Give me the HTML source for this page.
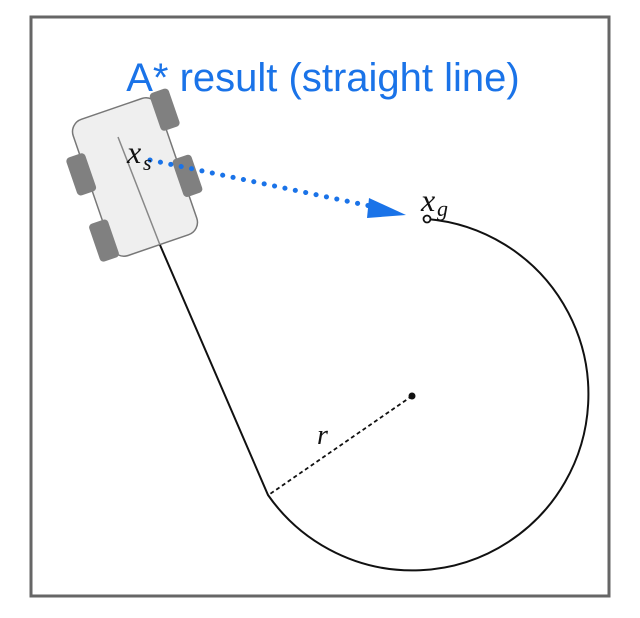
<!DOCTYPE html>
<html><head><style>html,body{margin:0;padding:0;background:#fff;}</style></head>
<body>
<svg width="640" height="613" xmlns="http://www.w3.org/2000/svg">
<rect x="31" y="17" width="578" height="579" fill="#fff" stroke="#666" stroke-width="3"/>
<text x="323" y="91" text-anchor="middle" font-family="Liberation Sans, sans-serif" font-size="40" fill="#1a73e8">A* result (straight line)</text>
<g transform="translate(135,177) rotate(-19)">
<rect x="-45" y="-72" width="90" height="144" rx="13" fill="#efefef" stroke="#777" stroke-width="1.5"/>
<rect x="-60" y="-40" width="20" height="40" rx="4" fill="#808080"/>
<rect x="-60" y="30" width="20" height="40" rx="4" fill="#808080"/>
<rect x="40" y="-74" width="20" height="40" rx="4" fill="#808080"/>
<rect x="40" y="-4" width="20" height="40" rx="4" fill="#808080"/>
</g>
<line x1="118" y1="137" x2="160" y2="245" stroke="#888" stroke-width="1.5"/>
<path d="M160 245 L268 495 A176 176 0 1 0 427 219" fill="none" stroke="#111" stroke-width="2"/>
<circle cx="427" cy="219" r="3.5" fill="#fff" stroke="#111" stroke-width="1.8"/>
<circle cx="412" cy="396" r="3.5" fill="#111"/>
<line x1="412" y1="396" x2="270" y2="494" stroke="#111" stroke-width="1.8" stroke-dasharray="4,3"/>
<text x="317" y="444" font-family="Liberation Serif, serif" font-style="italic" font-size="28" fill="#111">r</text>
<line x1="150" y1="160" x2="375" y2="207" stroke="#1a73e8" stroke-width="5" stroke-dasharray="0.1,10.5" stroke-linecap="round"/>
<polygon points="406,215 369,198 367,218" fill="#1a73e8"/>
<text x="127" y="163" font-family="Liberation Serif, serif" font-style="italic" font-size="32" fill="#111">x</text>
<text x="143" y="170" font-family="Liberation Serif, serif" font-style="italic" font-size="22" fill="#111">s</text>
<text x="421" y="211" font-family="Liberation Serif, serif" font-style="italic" font-size="32" fill="#111">x</text>
<text x="437" y="216" font-family="Liberation Serif, serif" font-style="italic" font-size="22" fill="#111">g</text>
</svg>
</body></html>
